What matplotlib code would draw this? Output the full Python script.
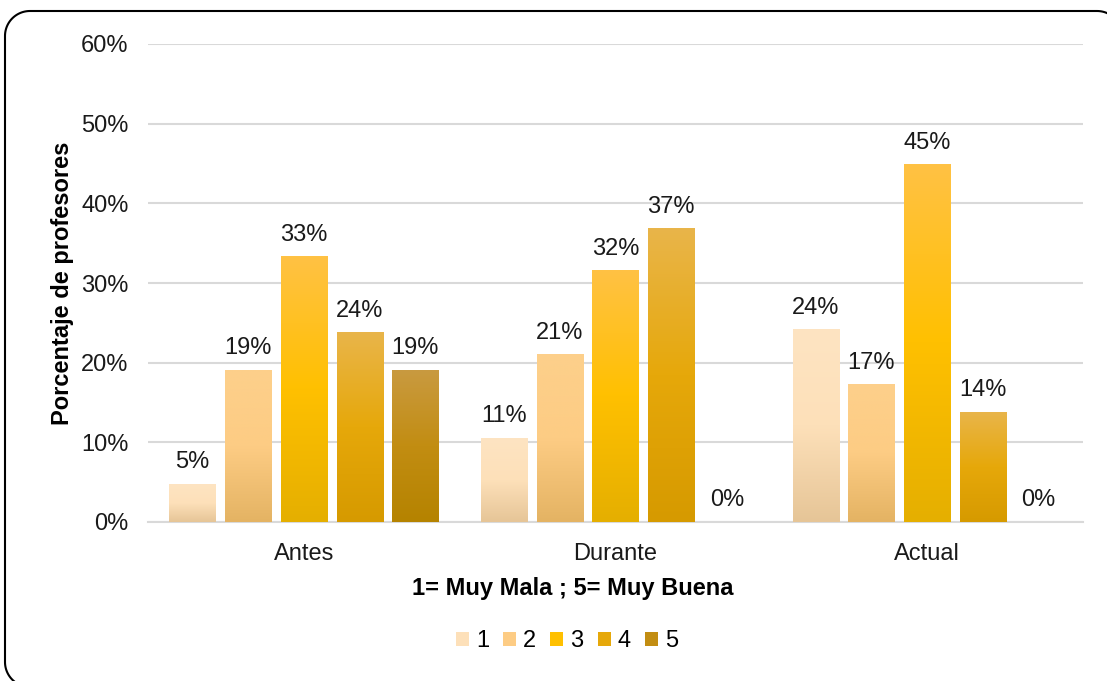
import numpy as np
import matplotlib
matplotlib.use("Agg")
import matplotlib.pyplot as plt
from matplotlib.colors import LinearSegmentedColormap
from matplotlib.patches import Patch

plt.rcParams['font.family'] = ['Liberation Sans', 'DejaVu Sans']

categories = ["Antes", "Durante", "Actual"]
series_names = ["1", "2", "3", "4", "5"]
s1 = [4.76, 10.53, 24.14]
s2 = [19.05, 21.05, 17.24]
s3 = [33.33, 31.58, 44.83]
s4 = [23.81, 36.84, 13.79]
s5 = [19.05, 0.0, 0.0]
labels_1 = ["5%", "11%", "24%"]
labels_2 = ["19%", "21%", "17%"]
labels_3 = ["33%", "32%", "45%"]
labels_4 = ["24%", "37%", "14%"]
labels_5 = ["19%", "0%", "0%"]
yticks = [0, 10, 20, 30, 40, 50, 60]
ytick_labels = ["0%", "10%", "20%", "30%", "40%", "50%", "60%"]

series = [s1, s2, s3, s4, s5]
labels = [labels_1, labels_2, labels_3, labels_4, labels_5]
# gradient stops: top, middle, bottom
grads = [
    ["#FEE4C2", "#FDE0B9", "#E6C597"],
    ["#FDD08B", "#FDCC84", "#E4B363"],
    ["#FFC244", "#FFC000", "#E5AF00"],
    ["#E9B54A", "#E6A80A", "#D69A00"],
    ["#C99A40", "#C28D12", "#B58300"],
]
legend_colors = ["#FDE0B9", "#FDCC84", "#FFC000", "#E6A80A", "#C28D12"]

W, H = 1107, 681
FS = 17
fig = plt.figure(figsize=(W / 100, H / 100), dpi=100)

# border (pixel coordinates, rounded rectangle partly outside the image)
bax = fig.add_axes([0, 0, 1, 1], zorder=-1)
bax.set_xlim(0, W)
bax.set_ylim(H, 0)
bax.axis('off')
L, T, R, B, r = 5, 11, 1122, 687, 25
def arc(cx, cy, a0, a1):
    t = np.radians(np.linspace(a0, a1, 30))
    return cx + r * np.cos(t), cy + r * np.sin(t)
xs, ys = [R + 30], [B]
ax_, ay_ = arc(L + r, B - r, 90, 180); xs += list(ax_); ys += list(ay_)
ax_, ay_ = arc(L + r, T + r, 180, 270); xs += list(ax_); ys += list(ay_)
ax_, ay_ = arc(R - r, T + r, 270, 360); xs += list(ax_); ys += list(ay_)
ax_, ay_ = arc(R - r, B - r, 0, 90); xs += list(ax_); ys += list(ay_)
bax.plot(xs, ys, color='black', linewidth=1.5, clip_on=False, solid_joinstyle='round')

ax = fig.add_axes([148 / W, 1 - 522 / H, (1083 - 148) / W, (522 - 44) / H])
ax.patch.set_alpha(0)

n = len(series)
step = 0.179
width = 0.148
x = np.arange(len(categories))
grad_arr = np.linspace(0, 1, 256).reshape(-1, 1)

for i, (vals, labs, g) in enumerate(zip(series, labels, grads)):
    cmap = LinearSegmentedColormap.from_list(f"g{i}", [(0, g[0]), (0.5, g[1]), (1, g[2])])
    offs = (i - (n - 1) / 2) * step
    for xi, v, lab in zip(x, vals, labs):
        x0 = xi + offs - width / 2
        if v > 0:
            ax.imshow(grad_arr, cmap=cmap, aspect='auto', extent=[x0, x0 + width, 0, v],
                      origin='upper', zorder=3, interpolation='bilinear')
        ax.text(xi + offs, v + 1.35, lab, ha='center', va='bottom', fontsize=FS,
                color='#1a1a1a', zorder=4)

ax.set_xlim(-0.5, 2.5)
ax.set_ylim(0, 60)
ax.set_yticks(yticks)
ax.set_yticklabels(ytick_labels)
ax.set_xticks(x)
ax.set_xticklabels(categories)
ax.tick_params(axis='both', length=0, labelsize=FS, colors='#1a1a1a')
ax.tick_params(axis='y', pad=14)
ax.tick_params(axis='x', pad=15)
ax.grid(axis='y', color='#D9D9D9', linewidth=1.5, zorder=0)
ax.set_axisbelow(True)
for sp in ['top', 'right', 'left']:
    ax.spines[sp].set_visible(False)
ax.spines['bottom'].set_color('#D9D9D9')
ax.spines['bottom'].set_linewidth(1.5)

ax.set_ylabel("Porcentaje de profesores", fontsize=FS, fontweight='bold', color='black', labelpad=5)
fig.text(573 / W, 1 - 588 / H, "1= Muy Mala ; 5= Muy Buena", ha='center', va='center',
         fontsize=FS, fontweight='bold', color='black')

handles = [Patch(facecolor=c, edgecolor='none') for c in legend_colors]
fig.legend(handles, series_names, loc='center', bbox_to_anchor=(567 / W, 1 - 641 / H), ncol=5,
           frameon=False, fontsize=FS, handlelength=0.55, handleheight=0.55,
           handletextpad=0.3, columnspacing=0.6)

fig.savefig("out.png", dpi=100, facecolor='white')
